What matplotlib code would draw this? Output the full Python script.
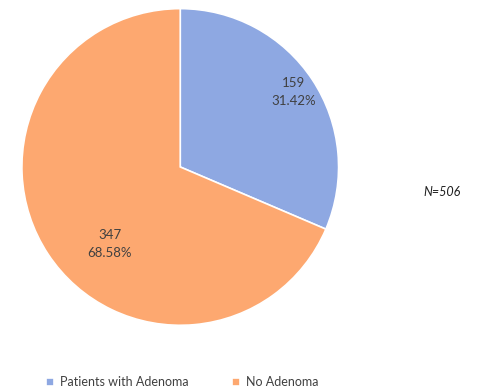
import matplotlib.pyplot as plt
import numpy as np

labels = ["Patients with Adenoma", "No Adenoma"]
counts = [159, 347]
percents = ["31.42%", "68.58%"]
colors = ["#8EA8E2", "#FDA870"]
total_n = 506

plt.rcParams['font.family'] = ['Lato', 'DejaVu Sans']

fig = plt.figure(figsize=(4.8, 3.91), dpi=100)
ax = fig.add_axes([0.042, 0.164, 0.667, 0.818])

wedges, _ = ax.pie(counts, colors=colors, startangle=90, counterclock=False,
                   wedgeprops=dict(edgecolor="white", linewidth=1.2))
ax.set_xlim(-1.01, 1.01)
ax.set_ylim(-1.01, 1.01)
ax.set_aspect("equal")

# data labels: distance from centre and angle nudge (deg) for each wedge
dists = [0.86, 0.66]
nudge = [0, 14]
for w, c, p, d, n in zip(wedges, counts, percents, dists, nudge):
    ang = np.deg2rad((w.theta1 + w.theta2) / 2 + n)
    ax.text(d * np.cos(ang), d * np.sin(ang), f"{c}\n{p}", ha="center", va="center",
            fontsize=9.5, color="#404040", linespacing=1.6)

fig.text(0.92, 0.51, f"N={total_n}", fontsize=9, style="italic", color="#202020",
         ha="center", va="center")

fig.legend(wedges, labels, loc="center", bbox_to_anchor=(0.38, 0.023), ncol=2,
           frameon=False, fontsize=9, handlelength=0.6, handleheight=0.6,
           columnspacing=3.5, handletextpad=0.5, labelcolor="#404040")

fig.savefig("out.png", dpi=100)
